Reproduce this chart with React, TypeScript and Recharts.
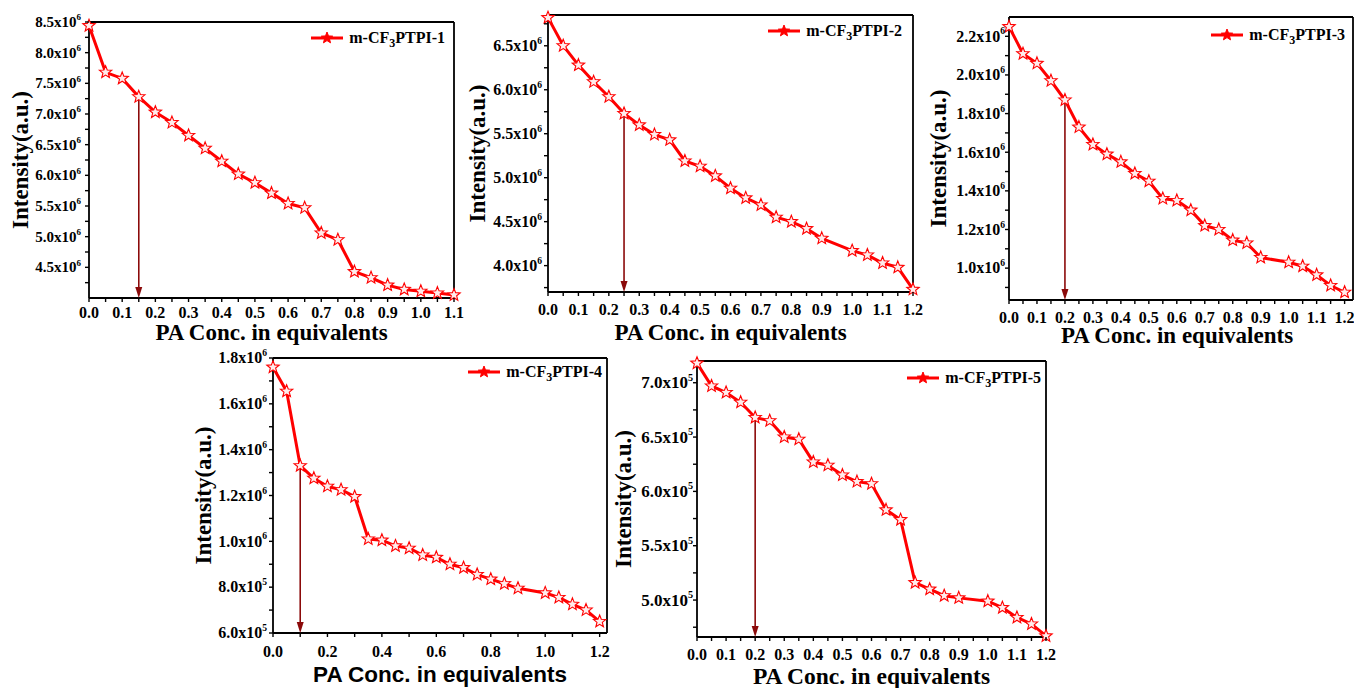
import React from "react";
import {
  LineChart,
  Line,
  XAxis,
  YAxis,
  CartesianGrid,
  ReferenceLine,
  Legend,
} from "recharts";

// PA concentration (equivalents)
const concA = [
  0, 0.05, 0.1, 0.15, 0.2, 0.25, 0.3, 0.35, 0.4, 0.45, 0.5, 0.55, 0.6, 0.65,
  0.7, 0.75, 0.8, 0.85, 0.9, 0.95, 1.0, 1.05, 1.1,
];
const concB = [
  0, 0.05, 0.1, 0.15, 0.2, 0.25, 0.3, 0.35, 0.4, 0.45, 0.5, 0.55, 0.6, 0.65,
  0.7, 0.75, 0.8, 0.85, 0.9, 1.0, 1.05, 1.1, 1.15, 1.2,
];

// emission intensity (a.u.)
const intensity1 = [
  8.44e6, 7.68e6, 7.58e6, 7.28e6, 7.03e6, 6.86e6, 6.65e6, 6.44e6, 6.23e6,
  6.02e6, 5.88e6, 5.71e6, 5.54e6, 5.47e6, 5.06e6, 4.95e6, 4.43e6, 4.33e6,
  4.21e6, 4.14e6, 4.11e6, 4.08e6, 4.05e6,
];
const intensity2 = [
  6.82e6, 6.5e6, 6.28e6, 6.09e6, 5.92e6, 5.73e6, 5.6e6, 5.49e6, 5.43e6,
  5.19e6, 5.13e6, 5.02e6, 4.88e6, 4.77e6, 4.69e6, 4.55e6, 4.5e6, 4.42e6,
  4.31e6, 4.17e6, 4.12e6, 4.03e6, 3.98e6, 3.73e6,
];
const intensity3 = [
  2.25e6, 2.11e6, 2.06e6, 1.97e6, 1.87e6, 1.73e6, 1.64e6, 1.59e6, 1.55e6,
  1.49e6, 1.45e6, 1.36e6, 1.35e6, 1.3e6, 1.22e6, 1.2e6, 1.145e6, 1.13e6,
  1.055e6, 1.03e6, 1.01e6, 0.965e6, 0.91e6, 0.875e6,
];
const intensity4 = [
  1.76e6, 1.655e6, 1.33e6, 1.275e6, 1.24e6, 1.225e6, 1.195e6, 1.01e6,
  1.005e6, 0.98e6, 0.97e6, 0.94e6, 0.93e6, 0.9e6, 0.885e6, 0.855e6, 0.835e6,
  0.815e6, 0.795e6, 0.775e6, 0.755e6, 0.725e6, 0.7e6, 0.65e6,
];
const intensity5 = [
  7.18e5, 6.97e5, 6.91e5, 6.82e5, 6.68e5, 6.65e5, 6.5e5, 6.48e5, 6.27e5,
  6.24e5, 6.15e5, 6.09e5, 6.07e5, 5.83e5, 5.74e5, 5.16e5, 5.1e5, 5.04e5,
  5.02e5, 4.99e5, 4.93e5, 4.84e5, 4.78e5, 4.67e5,
];

// arrow (detection point) positions
const arrowConc = [0.15, 0.25, 0.2, 0.1, 0.2];

// x ticks
const xMajor11 = [0, 0.1, 0.2, 0.3, 0.4, 0.5, 0.6, 0.7, 0.8, 0.9, 1.0, 1.1];
const xMinor11 = [0.05, 0.15, 0.25, 0.35, 0.45, 0.55, 0.65, 0.75, 0.85, 0.95, 1.05];
const xMajor12 = [0, 0.1, 0.2, 0.3, 0.4, 0.5, 0.6, 0.7, 0.8, 0.9, 1.0, 1.1, 1.2];
const xMinor12 = [0.05, 0.15, 0.25, 0.35, 0.45, 0.55, 0.65, 0.75, 0.85, 0.95, 1.05, 1.15];
const xMajor12b = [0, 0.2, 0.4, 0.6, 0.8, 1.0, 1.2];
const xMinor12b = [0.1, 0.3, 0.5, 0.7, 0.9, 1.1];

// y ticks
const yMajor1 = [4.5e6, 5.0e6, 5.5e6, 6.0e6, 6.5e6, 7.0e6, 7.5e6, 8.0e6, 8.5e6];
const yMinor1 = [4.25e6, 4.75e6, 5.25e6, 5.75e6, 6.25e6, 6.75e6, 7.25e6, 7.75e6, 8.25e6];
const yMajor2 = [4.0e6, 4.5e6, 5.0e6, 5.5e6, 6.0e6, 6.5e6];
const yMinor2 = [3.75e6, 4.25e6, 4.75e6, 5.25e6, 5.75e6, 6.25e6, 6.75e6];
const yMajor3 = [1.0e6, 1.2e6, 1.4e6, 1.6e6, 1.8e6, 2.0e6, 2.2e6];
const yMinor3 = [0.9e6, 1.1e6, 1.3e6, 1.5e6, 1.7e6, 1.9e6, 2.1e6];
const yMajor4 = [0.6e6, 0.8e6, 1.0e6, 1.2e6, 1.4e6, 1.6e6, 1.8e6];
const yMinor4 = [0.7e6, 0.9e6, 1.1e6, 1.3e6, 1.5e6, 1.7e6];
const yMajor5 = [5.0e5, 5.5e5, 6.0e5, 6.5e5, 7.0e5];
const yMinor5 = [4.75e5, 5.25e5, 5.75e5, 6.25e5, 6.75e5];

const SERIF = '"Liberation Serif", "Times New Roman", serif';
const SANS = '"Liberation Sans", Arial, sans-serif';
const RED = "#ff0000";
const ARROW = "#8b0a0a";

const panels = [
  {
    n: 1, conc: concA, values: intensity1, arrowAt: arrowConc[0],
    xDomain: [0, 1.1], yDomain: [4.0e6, 8.5e6],
    xMajor: xMajor11, xMinor: xMinor11, yMajor: yMajor1, yMinor: yMinor1,
    box: { left: 0, top: 0, width: 470, height: 345 },
    mTop: 22, mRight: 16, yW: 89, xH: 47,
    yTitle: [20, 160], xTitle: [271.5, 340], xTitleFont: SERIF, xTitleSize: 23,
    legCy: 38, legRight: 25, yGap: 8, yFont: 15, xDy: 20,
  },
  {
    n: 2, conc: concB, values: intensity2, arrowAt: arrowConc[1],
    xDomain: [0, 1.2], yDomain: [3.7e6, 6.85e6],
    xMajor: xMajor12, xMinor: xMinor12, yMajor: yMajor2, yMinor: yMinor2,
    box: { left: 455, top: 0, width: 475, height: 345 },
    mTop: 15, mRight: 17, yW: 93, xH: 53,
    yTitle: [22, 153.5], xTitle: [275.5, 340], xTitleFont: SERIF, xTitleSize: 23,
    legCy: 31, legRight: 28, yGap: 6, yFont: 16, xDy: 23,
  },
  {
    n: 3, conc: concB, values: intensity3, arrowAt: arrowConc[2],
    xDomain: [0, 1.23], yDomain: [0.835e6, 2.3e6],
    xMajor: xMajor12, xMinor: xMinor12, yMajor: yMajor3, yMinor: yMinor3,
    box: { left: 920, top: 0, width: 434, height: 352 },
    mTop: 17, mRight: 1, yW: 89, xH: 52,
    yTitle: [18, 158.5], xTitle: [257, 343], xTitleFont: SERIF, xTitleSize: 23,
    legCy: 35, legRight: 9, yGap: 4, yFont: 16, xDy: 23,
  },
  {
    n: 4, conc: concB, values: intensity4, arrowAt: arrowConc[3],
    xDomain: [0, 1.227], yDomain: [0.6e6, 1.8e6],
    xMajor: xMajor12b, xMinor: xMinor12b, yMajor: yMajor4, yMinor: yMinor4,
    box: { left: 180, top: 340, width: 440, height: 348 },
    mTop: 18, mRight: 13, yW: 93, xH: 55,
    yTitle: [23, 155.5], xTitle: [260, 341.5], xTitleFont: SANS, xTitleSize: 22.5,
    legCy: 32, legRight: 18, yGap: 6, yFont: 16, xDy: 24,
  },
  {
    n: 5, conc: concB, values: intensity5, arrowAt: arrowConc[4],
    xDomain: [0, 1.2], yDomain: [4.66e5, 7.2e5],
    xMajor: xMajor12, xMinor: xMinor12, yMajor: yMajor5, yMinor: yMinor5,
    box: { left: 600, top: 340, width: 460, height: 348 },
    mTop: 21, mRight: 14, yW: 97, xH: 51,
    yTitle: [23, 159], xTitle: [271.5, 344], xTitleFont: SERIF, xTitleSize: 23.5,
    legCy: 38, legRight: 19, yGap: 4, yFont: 17, xDy: 23,
  },
];

const isIn = (arr: number[], v: number) =>
  arr.some((m) => Math.abs(m - v) <= Math.abs(m) * 1e-9 + 1e-9);

const starPoints = (cx: number, cy: number, R: number, r: number) => {
  const pts: string[] = [];
  for (let i = 0; i < 10; i++) {
    const rad = i % 2 === 0 ? R : r;
    const a = -Math.PI / 2 + (i * Math.PI) / 5;
    pts.push(`${(cx + rad * Math.cos(a)).toFixed(2)},${(cy + rad * Math.sin(a)).toFixed(2)}`);
  }
  return pts.join(" ");
};

const sciLabel = (v: number) => {
  if (v >= 1e6 - 1) return { mant: (v / 1e6).toFixed(1), exp: "6" };
  return { mant: (v / 1e5).toFixed(1), exp: "5" };
};

const XTick = ({ x, y, payload, majors, dy }: any) => {
  const major = isIn(majors, payload.value);
  return (
    <g>
      <line x1={x} x2={x} y1={y} y2={y + 4} stroke="#000" strokeWidth={1.4} />
      {major && (
        <text x={x} y={y + dy} textAnchor="middle" fontFamily={SERIF} fontWeight="bold" fontSize={16} fill="#000">
          {Number(payload.value).toFixed(1)}
        </text>
      )}
    </g>
  );
};

const YTick = ({ x, y, payload, majors, gap, font }: any) => {
  const major = isIn(majors, payload.value);
  const { mant, exp } = sciLabel(payload.value);
  return (
    <g>
      <line x1={x} x2={x - 4} y1={y} y2={y} stroke="#000" strokeWidth={1.4} />
      {major && (
        <text x={x - gap} y={y + font * 0.33} textAnchor="end" fontFamily={SERIF} fontWeight="bold" fontSize={font} fill="#000">
          <tspan>{mant}x10</tspan>
          <tspan dy={-font * 0.45} fontSize={font * 0.6}>{exp}</tspan>
        </text>
      )}
    </g>
  );
};

const ArrowShape = (props: any) => {
  const { x1, y1, y2 } = props;
  const top = Math.min(y1, y2);
  const bottom = Math.max(y1, y2);
  return (
    <g>
      <line x1={x1} x2={x1} y1={top} y2={bottom - 9} stroke={ARROW} strokeWidth={1.6} />
      <polygon points={`${x1 - 3.5},${bottom - 11} ${x1 + 3.5},${bottom - 11} ${x1},${bottom}`} fill={ARROW} />
    </g>
  );
};

const LegendBox = ({ n }: { n: number }) => (
  <div
    style={{
      display: "flex",
      alignItems: "center",
      fontFamily: SERIF,
      fontWeight: "bold",
      fontSize: 16,
      lineHeight: "18px",
      color: "#000",
      whiteSpace: "nowrap",
    }}
  >
    <svg width={32} height={14} style={{ display: "block" }}>
      <line x1={0} y1={7} x2={32} y2={7} stroke={RED} strokeWidth={3} />
      <polygon points={starPoints(16, 7, 6, 2.6)} fill={RED} stroke={RED} strokeWidth={1} />
    </svg>
    <span style={{ marginLeft: 6 }}>
      m-CF<sub style={{ fontSize: 12, verticalAlign: "-4px", lineHeight: 0 }}>3</sub>PTPI-{n}
    </span>
  </div>
);

// frame lines along the plot-area edges
const frameH = ({ offset }: any) => [offset.top, offset.top + offset.height];
const frameV = ({ offset }: any) => [offset.left, offset.left + offset.width];

const Panel = ({ p }: { p: (typeof panels)[number] }) => {
  const data = p.conc.map((c, i) => ({ conc: c, intensity: p.values[i] }));
  const arrowIdx = p.conc.findIndex((c) => Math.abs(c - p.arrowAt) < 1e-9);
  const arrowTop = p.values[arrowIdx];
  const xTicks = [...p.xMajor, ...p.xMinor].sort((a, b) => a - b);
  const yTicks = [...p.yMajor, ...p.yMinor].sort((a, b) => a - b);

  return (
    <div style={{ position: "absolute", left: p.box.left, top: p.box.top }}>
      <LineChart
        width={p.box.width}
        height={p.box.height}
        data={data}
        margin={{ top: p.mTop, right: p.mRight, bottom: 0, left: 0 }}
      >
        <CartesianGrid
          stroke="#000"
          strokeWidth={1.8}
          fill="none"
          horizontalCoordinatesGenerator={frameH}
          verticalCoordinatesGenerator={frameV}
        />
        <XAxis
          dataKey="conc"
          type="number"
          domain={p.xDomain}
          ticks={xTicks}
          interval={0}
          height={p.xH}
          tickSize={0}
          tickMargin={0}
          tickLine={false}
          axisLine={false}
          tick={(tp: any) => <XTick {...tp} majors={p.xMajor} dy={p.xDy} />}
          label={{
            content: () => (
              <text
                x={p.xTitle[0]}
                y={p.xTitle[1]}
                textAnchor="middle"
                fontFamily={p.xTitleFont}
                fontWeight="bold"
                fontSize={p.xTitleSize}
                fill="#000"
              >
                PA Conc. in equivalents
              </text>
            ),
          }}
        />
        <YAxis
          type="number"
          domain={p.yDomain}
          ticks={yTicks}
          interval={0}
          width={p.yW}
          tickSize={0}
          tickMargin={0}
          tickLine={false}
          axisLine={false}
          tick={(tp: any) => <YTick {...tp} majors={p.yMajor} gap={p.yGap} font={p.yFont} />}
          label={{
            content: () => (
              <text
                x={p.yTitle[0]}
                y={p.yTitle[1]}
                transform={`rotate(-90 ${p.yTitle[0]} ${p.yTitle[1]})`}
                textAnchor="middle"
                dominantBaseline="central"
                fontFamily={SERIF}
                fontWeight="bold"
                fontSize={23}
                fill="#000"
              >
                Intensity(a.u.)
              </text>
            ),
          }}
        />
        <ReferenceLine
          segment={[
            { x: p.arrowAt, y: arrowTop },
            { x: p.arrowAt, y: p.yDomain[0] },
          ]}
          ifOverflow="visible"
          shape={ArrowShape}
        />
        <Line
          type="linear"
          dataKey="intensity"
          name={`m-CF3PTPI-${p.n}`}
          stroke={RED}
          strokeWidth={3}
          isAnimationActive={false}
          dot={(dp: any) => (
            <polygon
              key={`star-${p.n}-${dp.index}`}
              points={starPoints(dp.cx, dp.cy, 6.5, 2.8)}
              fill="#ffecec"
              stroke={RED}
              strokeWidth={1.1}
            />
          )}
          activeDot={false}
        />
        <Legend
          layout="horizontal"
          verticalAlign="middle"
          align="center"
          wrapperStyle={{
            top: p.legCy - 9,
            right: p.legRight,
            left: "auto",
            width: "auto",
            height: "auto",
          }}
          content={() => <LegendBox n={p.n} />}
        />
      </LineChart>
    </div>
  );
};

export default function App() {
  return (
    <div
      style={{
        position: "absolute",
        left: 0,
        top: 0,
        width: 1354,
        height: 688,
        background: "#fff",
        overflow: "hidden",
      }}
    >
      {panels.map((p) => (
        <Panel key={p.n} p={p} />
      ))}
    </div>
  );
}
